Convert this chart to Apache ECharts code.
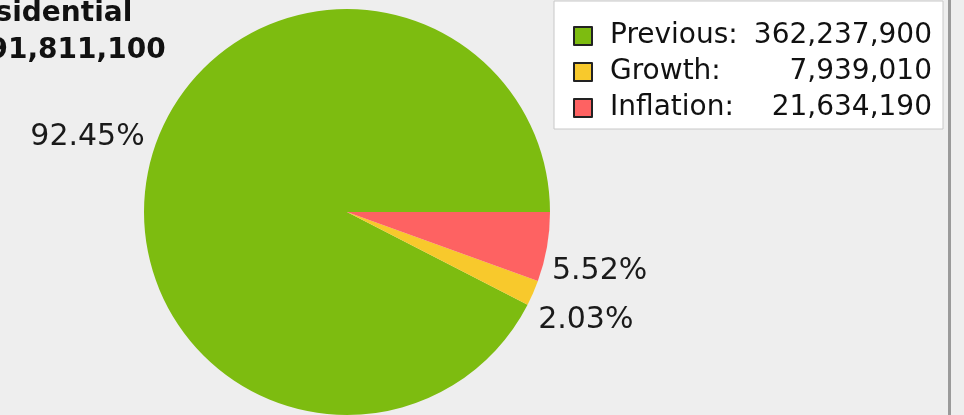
<!DOCTYPE html>
<html><head><meta charset="utf-8">
<script src="https://cdn.jsdelivr.net/npm/echarts@6/dist/echarts.min.js"></script>
<style>html,body{margin:0;padding:0;background:#eeeeee}#c{width:964px;height:415px}</style>
</head><body><div id="c"></div>
<script>
const titleName = 'Residential';
const categories = ['Previous', 'Growth', 'Inflation'];
const values = [362237900, 7939010, 21634190];
const colors = ['#7dbc10', '#f8c92c', '#fe6262'];

const total = values.reduce((a, b) => a + b, 0);
const fmt = v => v.toLocaleString('en-US');
const tStyle = { fontFamily: 'DejaVu Sans', fontWeight: 'bold', fontSize: 28, color: '#111', lineHeight: 37 };
const chart = echarts.init(document.getElementById('c'));
chart.setOption({
  backgroundColor: '#eeeeee',
  animation: false,
  title: {
    text: '{a|' + titleName + '}\n{b|' + fmt(total) + '}',
    left: -50, top: -10,
    textStyle: Object.assign({}, tStyle, {
      rich: {
        a: Object.assign({}, tStyle),
        b: Object.assign({}, tStyle, { padding: [0, 0, 0, 14] })
      }
    })
  },
  legend: {
    orient: 'vertical', left: 554, top: 1,
    backgroundColor: '#ffffff', borderColor: '#c8c8c8', borderWidth: 1, borderRadius: 0,
    padding: [21, 11, 7, 19], itemGap: 8,
    itemWidth: 18, itemHeight: 18, icon: 'rect',
    itemStyle: { borderColor: '#222', borderWidth: 2 },
    data: categories,
    formatter: name => {
      const i = categories.indexOf(name);
      return '{n|' + name + ':}{v|' + fmt(values[i]) + '}';
    },
    textStyle: {
      padding: [0, 0, 0, 13],
      rich: {
        n: { fontFamily: 'DejaVu Sans', fontSize: 28, color: '#111', width: 142 },
        v: { fontFamily: 'DejaVu Sans', fontSize: 28, color: '#111', width: 180, align: 'right' }
      }
    }
  },
  graphic: [{ type: 'rect', shape: { x: 948, y: 0, width: 3, height: 415 }, style: { fill: '#9a9a9a' } }],
  series: [{
    type: 'pie', center: [347, 212], radius: 203,
    startAngle: 0, clockwise: false,
    avoidLabelOverlap: false,
    data: categories.map((c, i) => ({ name: c, value: values[i], itemStyle: { color: colors[i] } })),
    label: { show: true, position: 'outside', formatter: '{d}%', fontFamily: 'DejaVu Sans', fontSize: 30, color: '#1a1a1a' },
    labelLine: { show: false, length: 0, length2: 0 },
    labelLayout: p => ({ dy: p.dataIndex === 0 ? -27 : (p.dataIndex === 1 ? 27 : 24) }),
    emphasis: { disabled: true }
  }]
});
</script></body></html>
